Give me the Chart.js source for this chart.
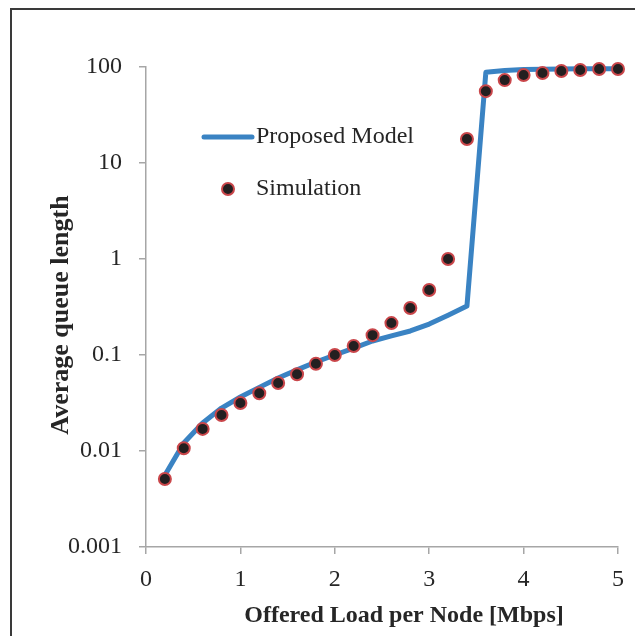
<!DOCTYPE html>
<html>
<head>
<meta charset="utf-8">
<script src="https://cdn.jsdelivr.net/npm/chart.js@4.4.1/dist/chart.umd.min.js"></script>
<style>
html,body{margin:0;padding:0;background:#fff;}
#wrap{position:absolute;left:0;top:0;width:635px;height:636px;}
</style>
</head>
<body>
<div id="wrap"><canvas id="c" width="635" height="636"></canvas></div>
<script>
const loads = [0.2,0.4,0.6,0.8,1.0,1.2,1.4,1.6,1.8,2.0,2.2,2.4,2.6,2.8,3.0,3.2,3.4,3.6,3.8,4.0,4.2,4.4,4.6,4.8,5.0];
const modelQueue = [0.0056,0.0121,0.0196,0.028,0.0365,0.046,0.0576,0.070,0.0845,0.100,0.118,0.140,0.158,0.178,0.21,0.26,0.324,88,92,94,95,95.5,96,96,96];
const simQueue = [0.0051,0.0107,0.0170,0.0237,0.0316,0.040,0.051,0.063,0.081,0.100,0.124,0.161,0.215,0.309,0.475,1.0,17.8,56,73,82.5,86.6,90.8,93,95.3,95.3];
const yTicks = [0.001,0.01,0.1,1,10,100];
const xTicks = [0,1,2,3,4,5];
const seriesNames = ['Proposed Model','Simulation'];
const xTitle = 'Offered Load per Node [Mbps]';
const yTitle = 'Average queue length';

const SERIF = "'Liberation Serif','Times New Roman',serif";
const LINE_COLOR = '#3a83c3';
const PT_FILL = '#231f20';
const PT_BORDER = '#c9464a';
const AXIS_COLOR = '#a6a6a6';

const extras = {
  id: 'extras',
  beforeDraw(chart){
    const ctx = chart.ctx;
    ctx.save();
    ctx.fillStyle = '#fff';
    ctx.fillRect(0,0,chart.width,chart.height);
    ctx.strokeStyle = '#3a3a3a';
    ctx.lineWidth = 2;
    ctx.beginPath();
    ctx.moveTo(11, chart.height);
    ctx.lineTo(11, 9);
    ctx.lineTo(chart.width, 9);
    ctx.stroke();
    ctx.restore();
  },
  afterDraw(chart){
    const ctx = chart.ctx;
    ctx.save();
    // axis titles
    ctx.fillStyle = '#262626';
    ctx.font = 'bold 24px ' + SERIF;
    ctx.textAlign = 'center';
    ctx.textBaseline = 'middle';
    ctx.fillText(xTitle, 404, 616);
    ctx.font = 'bold 26px ' + SERIF;
    ctx.translate(61, 315);
    ctx.rotate(-Math.PI/2);
    ctx.fillText(yTitle, 0, 0);
    ctx.restore();
    // legend
    ctx.save();
    ctx.strokeStyle = LINE_COLOR;
    ctx.lineWidth = 5;
    ctx.lineCap = 'round';
    ctx.beginPath();
    ctx.moveTo(204,137);
    ctx.lineTo(252,137);
    ctx.stroke();
    ctx.beginPath();
    ctx.arc(228,189,6,0,Math.PI*2);
    ctx.fillStyle = PT_FILL;
    ctx.fill();
    ctx.lineWidth = 2;
    ctx.strokeStyle = PT_BORDER;
    ctx.stroke();
    ctx.fillStyle = '#262626';
    ctx.font = '24px ' + SERIF;
    ctx.textAlign = 'left';
    ctx.textBaseline = 'middle';
    ctx.fillText(seriesNames[0], 256, 137);
    ctx.fillText(seriesNames[1], 256, 189);
    ctx.restore();
  }
};

new Chart(document.getElementById('c'), {
  type: 'line',
  data: {
    datasets: [
      {
        label: seriesNames[0],
        data: loads.map((x,i)=>({x:x, y:modelQueue[i]})),
        borderColor: LINE_COLOR,
        borderWidth: 5,
        pointRadius: 0,
        tension: 0,
        fill: false,
        borderJoinStyle: 'round',
        order: 2,
        clip: false
      },
      {
        label: seriesNames[1],
        data: loads.map((x,i)=>({x:x, y:simQueue[i]})),
        showLine: false,
        pointRadius: 6,
        pointBackgroundColor: PT_FILL,
        pointBorderColor: PT_BORDER,
        pointBorderWidth: 2,
        order: 1,
        clip: false
      }
    ]
  },
  options: {
    responsive: false,
    animation: false,
    devicePixelRatio: 1,
    layout: { padding: { left: 0, right: 16, top: 67, bottom: 0 } },
    plugins: { legend: { display: false }, tooltip: { enabled: false } },
    scales: {
      x: {
        type: 'linear',
        min: 0, max: 5,
        afterBuildTicks(scale){ scale.ticks = xTicks.map(v=>({value:v})); },
        afterFit(scale){ scale.height = 89; },
        grid: { drawOnChartArea: false, drawTicks: true, tickLength: 7, color: AXIS_COLOR, lineWidth: 1.5 },
        border: { display: true, color: AXIS_COLOR, width: 1.5 },
        ticks: { color: '#262626', font: { family: SERIF, size: 24 }, padding: 11, maxRotation: 0 }
      },
      y: {
        type: 'logarithmic',
        min: 0.001, max: 100,
        afterBuildTicks(scale){ scale.ticks = yTicks.map(v=>({value:v})); },
        afterFit(scale){ scale.width = 146; },
        grid: { drawOnChartArea: false, drawTicks: true, tickLength: 7, color: AXIS_COLOR, lineWidth: 1.5 },
        border: { display: true, color: AXIS_COLOR, width: 1.5 },
        ticks: { color: '#262626', font: { family: SERIF, size: 24 }, padding: 17,
          callback(v){ return String(v); } }
      }
    }
  },
  plugins: [extras]
});
</script>
</body>
</html>
